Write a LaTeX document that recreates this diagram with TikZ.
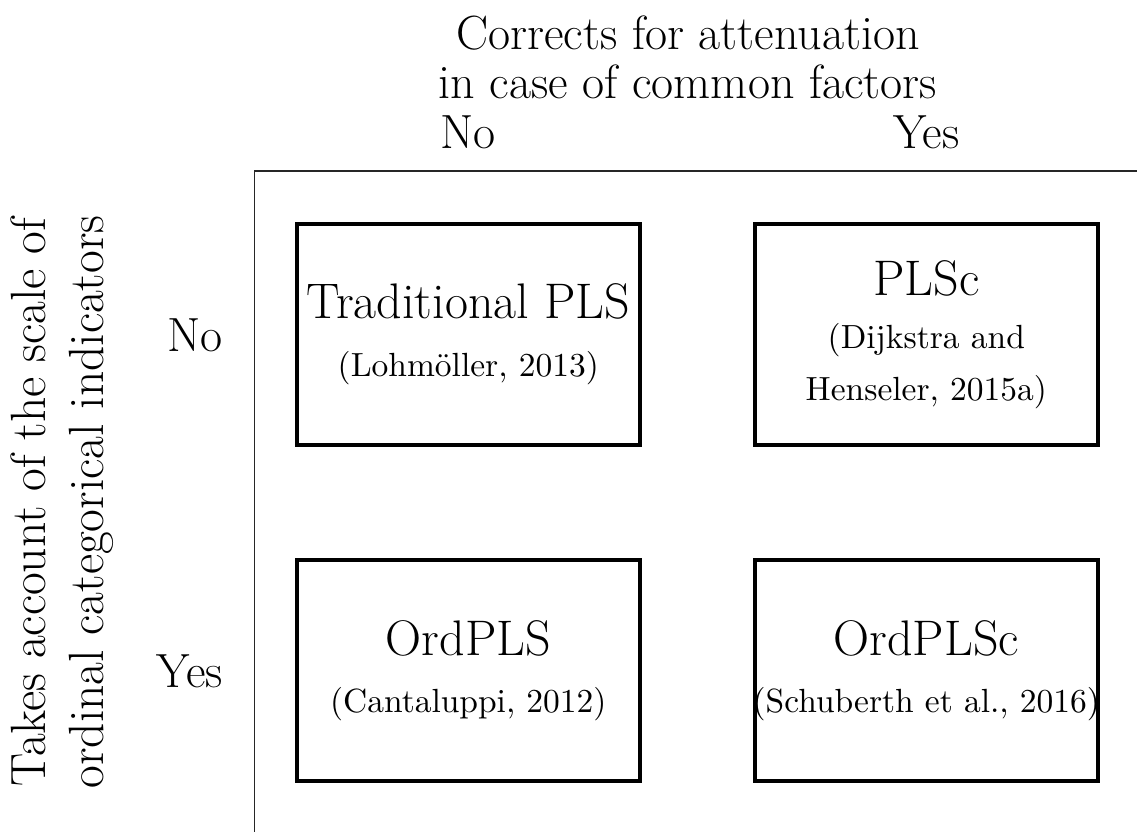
\documentclass[tikz,border=0pt]{standalone}
\usepackage{graphicx}

% large labels (17pt design) and small reference lines (10pt design, enlarged)
\newcommand\bigfont{\fontsize{48}{50}\selectfont}
\newcommand\boxfont{\fontsize{50}{52}\selectfont}
\newcommand\reftext[1]{\scalebox{3.35}{\fontsize{10}{12}\selectfont #1}}

\begin{document}
\begin{tikzpicture}[x=1pt,y=-1pt,
  axis/.style={line width=1.4pt, draw=black!85},
  method/.style={draw, line width=4pt, minimum width=343pt, minimum height=221pt,
                 inner sep=0pt, align=center, font=\boxfont},
  lbl/.style={font=\bigfont, inner sep=0pt},
]
\useasboundingbox (0,0) rectangle (1137,832);

% quadrant frame
\coordinate (axend) at (1137,171);
\coordinate (axcorner) at (254.5,171);
\coordinate (axfoot) at (254.5,832);
\draw[axis] (axend) -- (axcorner) -- (axfoot);

% the four methods
\node[method] (tpls) at (468.3,334.4) {Traditional PLS\\[6pt]\reftext{(Lohmöller, 2013)}};
\node[method] (plsc) at (926.3,334.4) {PLSc\\[1pt]\reftext{(Dijkstra and}\\\reftext{Henseler, 2015a)}};
\node[method] (ord)  at (468.3,670.9) {OrdPLS\\[5pt]\reftext{(Cantaluppi, 2012)}};
\node[method] (ordc) at (926.3,670.9) {OrdPLSc\\[5pt]\makebox[0pt]{\reftext{(Schuberth et al., 2016)}}};

% column heading
\node[lbl, anchor=base] (corr1) at (688,50) {Corrects for attenuation};
\node[lbl, anchor=base] (corr2) at (688,99) {in case of common factors};
\node[lbl, anchor=base] (colno)  at (468.3,148) {No};
\node[lbl, anchor=base] (colyes) at (926.3,148) {Yes};

% row heading
\node[lbl, rotate=90, align=center, font=\fontsize{49.5}{58}\selectfont] (rowtitle) at (62,502)
  {Takes account of the scale of\\ordinal categorical indicators};
\node[lbl, anchor=east] (rowno)  at (223,335) {No};
\node[lbl, anchor=east] (rowyes) at (223,671) {Yes};
\end{tikzpicture}
\end{document}
